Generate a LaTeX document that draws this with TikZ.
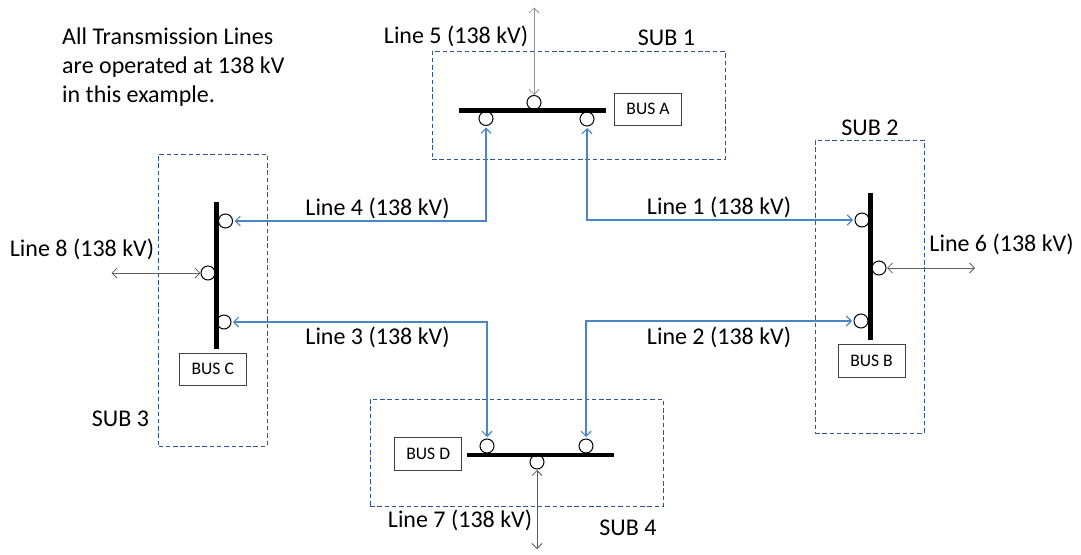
\documentclass[tikz,border=0pt]{standalone}
\usepackage{fontspec}
\setmainfont{Carlito}
\usetikzlibrary{arrows.meta}
\definecolor{subblue}{HTML}{2F5597}
\definecolor{lineblue}{HTML}{4A86C5}
\definecolor{extgray}{HTML}{5E5E5E}
\tikzset{
  subbox/.style={draw=subblue,line width=1pt,dash pattern=on 4.5pt off 2.8pt},
  busbox/.style={draw=black!75,line width=1pt,fill=white,inner sep=0pt,minimum width=67pt,minimum height=32.5pt,font=\fontsize{17.6}{20}\selectfont},
  term/.style={circle,draw=black,line width=1pt,fill=white,inner sep=0pt,minimum size=14pt},
  hbar/.style={fill=black,inner sep=0pt,minimum width=147pt,minimum height=4.5pt},
  vbar/.style={fill=black,inner sep=0pt,minimum width=5pt,minimum height=147pt},
  lbl/.style={inner sep=0pt,font=\fontsize{24}{29}\selectfont},
  feeder/.style={draw=lineblue,line width=1.25pt,{Straight Barb[length=5pt,width=10pt,line width=1.1pt]}-{Straight Barb[length=5pt,width=10pt,line width=1.1pt]},shorten <=1.5pt,shorten >=1.5pt},
  ext/.style={draw=extgray,line width=1pt,{Straight Barb[length=5pt,width=10pt,line width=0.8pt]}-{Straight Barb[length=5pt,width=10pt,line width=0.8pt]},shorten <=0.5pt},
}
\begin{document}
\begin{tikzpicture}[x=1pt,y=-1pt]
\useasboundingbox (0,0) rectangle (1081,554);
% substations
\node[subbox,draw,inner sep=0pt,minimum width=293pt,minimum height=108pt] (sub1) at (578.5,105) {};
\node[subbox,draw,inner sep=0pt,minimum width=109pt,minimum height=293pt] (sub2) at (869.5,286.5) {};
\node[subbox,draw,inner sep=0pt,minimum width=108.5pt,minimum height=292pt] (sub3) at (212.75,300) {};
\node[subbox,draw,inner sep=0pt,minimum width=293pt,minimum height=107.5pt] (sub4) at (516.5,452.75) {};
% terminals
\node[term] (a5) at (534,102.5) {};
\node[term] (a4) at (486,118.5) {};
\node[term] (a1) at (587,119) {};
\node[term] (b1) at (862,220) {};
\node[term] (b6) at (879,268) {};
\node[term] (b2) at (861,321) {};
\node[term] (c4) at (225.5,221) {};
\node[term] (c8) at (208,273) {};
\node[term] (c3) at (224,322) {};
\node[term] (d3) at (487,446) {};
\node[term] (d2) at (586,446) {};
\node[term] (d7) at (537,462) {};
% buses
\node[hbar] (barA) at (532.5,110.5) {};
\node[vbar] (barB) at (870.5,266.5) {};
\node[vbar] (barC) at (216.5,275.5) {};
\node[hbar] (barD) at (540.5,455) {};
\node[busbox] (busA) at (648,109.25) {BUS A};
\node[busbox] (busB) at (871.5,360.75) {BUS B};
\node[busbox] (busC) at (212.75,369.25) {BUS C};
\node[busbox] (busD) at (428.25,454) {BUS D};
% free ends
\coordinate (e5) at (534,7);
\coordinate (e6) at (975,268);
\coordinate (e7) at (537,549);
\coordinate (e8) at (111,273);
% connectors
\draw[feeder] (a1.south) |- (b1.west);
\draw[feeder] (a4.south) |- (c4.east);
\draw[feeder] (c3.east) -| (d3.north);
\draw[feeder] (b2.west) -| (d2.north);
\draw[ext,draw=gray!85] (e5) -- (a5.north);
\draw[ext] (b6.east) -- (e6);
\draw[ext] (d7.south) -- (e7);
\draw[ext] (e8) -- (c8.west);
% labels
\node[lbl,align=left,anchor=north west,font=\fontsize{24}{29}\selectfont] (note) at (62,28) {All Transmission Lines\\are operated at 138 kV\\in this example.};
\node[lbl] (l5) at (456,36.5) {Line 5 (138 kV)};
\node[lbl] (s1) at (666.5,37.5) {SUB 1};
\node[lbl] (l4) at (377.5,208.5) {Line 4 (138 kV)};
\node[lbl] (l1) at (719,207.5) {Line 1 (138 kV)};
\node[lbl] (l8) at (82,249.5) {Line 8 (138 kV)};
\node[lbl] (l6) at (1001.5,244.5) {Line 6 (138 kV)};
\node[lbl] (s2) at (870,127.5) {SUB 2};
\node[lbl] (l3) at (377.5,337.5) {Line 3 (138 kV)};
\node[lbl] (l2) at (719,337.5) {Line 2 (138 kV)};
\node[lbl] (s3) at (120.5,418.5) {SUB 3};
\node[lbl] (l7) at (460,520.5) {Line 7 (138 kV)};
\node[lbl] (s4) at (628,527.5) {SUB 4};
\end{tikzpicture}
\end{document}
